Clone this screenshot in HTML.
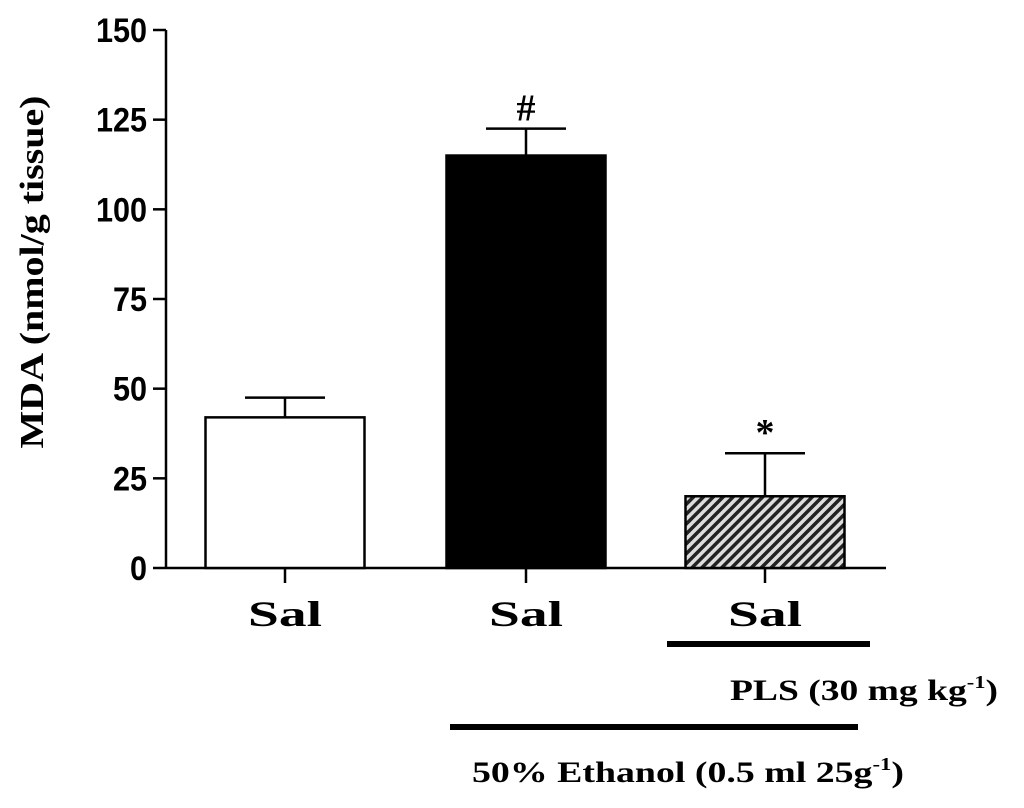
<!DOCTYPE html>
<html><head><meta charset="utf-8"><style>
body{margin:0;background:#fff;width:1024px;height:803px;overflow:hidden}
svg text{font-weight:bold}
</style></head><body>
<svg id="chart" width="1024" height="803" viewBox="0 0 1024 803" xmlns="http://www.w3.org/2000/svg">
<defs>
<pattern id="hatch" width="7" height="7" patternUnits="userSpaceOnUse" patternTransform="rotate(45)">
<rect width="7" height="7" fill="#ddd"/><rect width="3.5" height="7" fill="#222"/>
</pattern>
</defs>
<g id="axes"></g>
<g id="bars"></g>
<text transform="translate(43,272) rotate(-90)" text-anchor="middle" font-family="Liberation Serif, serif" font-size="34" textLength="353" lengthAdjust="spacingAndGlyphs">MDA (nmol/g tissue)</text>
<line x1="667" y1="644" x2="870" y2="644" stroke="#000" stroke-width="6"/>
<text x="730" y="700" font-family="Liberation Serif, serif" font-size="30" textLength="268" lengthAdjust="spacingAndGlyphs">PLS (30 mg kg<tspan font-size="18" dy="-12">-1</tspan><tspan dy="12">)</tspan></text>
<line x1="450" y1="727" x2="858" y2="727" stroke="#000" stroke-width="6"/>
<text x="472" y="782" font-family="Liberation Serif, serif" font-size="30" textLength="432" lengthAdjust="spacingAndGlyphs">50% Ethanol (0.5 ml 25g<tspan font-size="18" dy="-12">-1</tspan><tspan dy="12">)</tspan></text>
</svg>
<script>
const categories = ["Sal","Sal","Sal"];
const values = [42, 115, 20];
const errors = [5.5, 7.5, 12];
const annotations = ["", "#", "*"];
const yTicks = [0,25,50,75,100,125,150];

const NS="http://www.w3.org/2000/svg";
const y0=568, y150=30, xL=166, xR=886;
const yS=v=>y0-(v/150)*(y0-y150);
const centers=[285,526,765], bw=159;
const fills=["#fff","#000","url(#hatch)"];
function mk(t,a,p){const e=document.createElementNS(NS,t);for(const k in a)e.setAttribute(k,a[k]);p.appendChild(e);return e;}
const ax=document.getElementById('axes'), bg=document.getElementById('bars');
let l=mk('line',{x1:xL,y1:y150,x2:xL,y2:y0,stroke:'#000','stroke-width':2.5},ax);


l=mk('line',{x1:xL,y1:y0,x2:xR,y2:y0,stroke:'#000','stroke-width':2.5},ax);


yTicks.forEach(v=>{
 const t=mk('line',{x1:153,y1:yS(v),x2:xL,y2:yS(v),stroke:'#000','stroke-width':2.5},ax);
 
 
 const tx=mk('text',{x:147,y:yS(v)+12,'text-anchor':'end','font-family':'Liberation Sans, sans-serif','font-size':34,transform:`translate(${147*0.1},0) scale(0.9,1)`},ax);
 tx.setAttribute('x',147/0.9*1-147*0.1/0.9);
 tx.textContent=v;
 
 
});
categories.forEach((c,i)=>{
 const cx=centers[i];
 const r=mk('rect',{x:cx-bw/2,y:yS(values[i]),width:bw,height:y0-yS(values[i]),fill:fills[i],stroke:'#000','stroke-width':2.5},bg);
 
 
 const top=yS(values[i]+errors[i]);
 const e=mk('path',{d:`M${cx},${yS(values[i])}V${top}M${cx-40},${top}H${cx+40}`,stroke:'#000','stroke-width':2.5,fill:'none'},bg);
 
 
 const tk=mk('line',{x1:cx,y1:y0,x2:cx,y2:y0+15,stroke:'#000','stroke-width':2.5},bg);
 
 
 const lb=mk('text',{x:cx,y:626,'text-anchor':'middle','font-family':'Liberation Serif, serif','font-size':36,textLength:74,lengthAdjust:'spacingAndGlyphs'},bg);
 lb.textContent=c;
 
 
 if(annotations[i]){
  const a=mk('text',{x:cx,y:top-8,'text-anchor':'middle','font-family':'Liberation Serif, serif','font-size':38},bg);
  a.textContent=annotations[i];
  
  
 }
});
</script>
</body></html>
